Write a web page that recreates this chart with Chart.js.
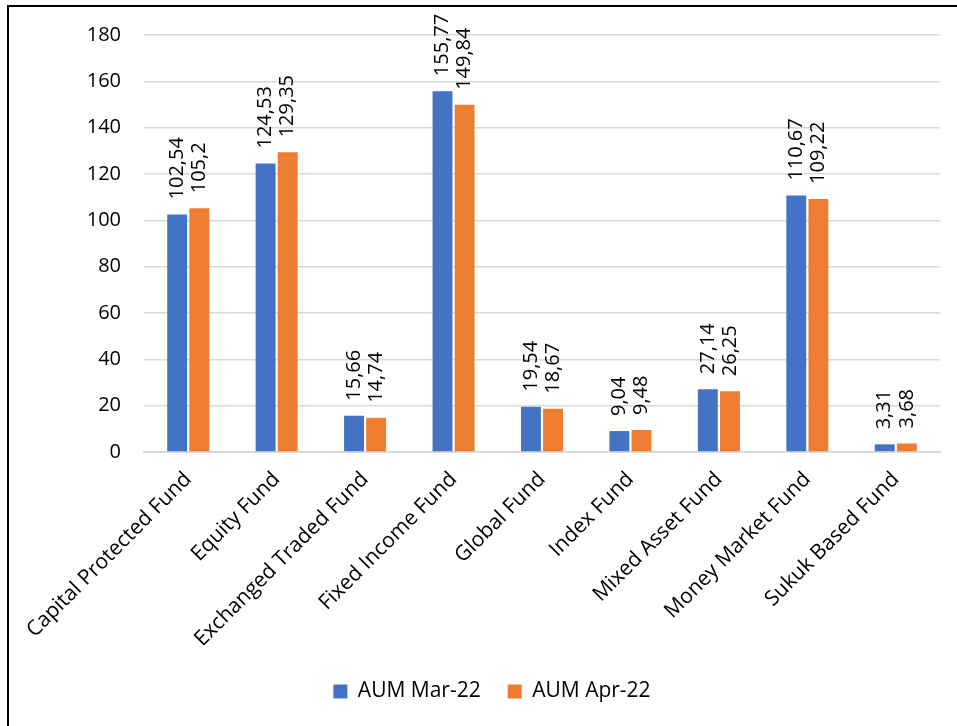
<!DOCTYPE html>
<html><head><meta charset="utf-8">
<script src="https://cdn.jsdelivr.net/npm/chart.js@4"></script>
<style>
html,body{margin:0;padding:0;background:#fff;}
#wrap{position:absolute;left:0;top:0;width:957px;height:726px;}
#frame{position:absolute;left:7px;top:5px;width:960px;height:730px;border-left:2px solid #000;border-top:2px solid #000;pointer-events:none;}
</style></head>
<body>
<div id="wrap"><canvas id="c" width="957" height="726"></canvas></div>
<div id="frame"></div>
<script>
const categories = ["Capital Protected Fund","Equity Fund","Exchanged Traded Fund","Fixed Income Fund","Global Fund","Index Fund","Mixed Asset Fund","Money Market Fund","Sukuk Based Fund"];
const aumMar22 = [102.54,124.53,15.66,155.77,19.54,9.04,27.14,110.67,3.31];
const aumApr22 = [105.2,129.35,14.74,149.84,18.67,9.48,26.25,109.22,3.68];
const seriesNames = ["AUM Mar-22","AUM Apr-22"];
const yTicks = [0,20,40,60,80,100,120,140,160,180];

const FONT = "'Open Sans', sans-serif";
const labelPlugin = {
  id: 'vlabels',
  afterDatasetsDraw(chart) {
    const ctx = chart.ctx;
    ctx.save();
    ctx.font = "20px " + FONT;
    ctx.fillStyle = "#000";
    ctx.textAlign = "left";
    ctx.textBaseline = "middle";
    chart.data.datasets.forEach((ds, di) => {
      const meta = chart.getDatasetMeta(di);
      meta.data.forEach((el, i) => {
        const txt = String(ds.data[i]).replace('.', ',');
        ctx.save();
        ctx.translate(el.x, el.y - 15);
        ctx.rotate(-Math.PI / 2);
        ctx.fillText(txt, 0, 0);
        ctx.restore();
      });
    });
    ctx.restore();
  }
};

new Chart(document.getElementById('c'), {
  type: 'bar',
  data: {
    labels: categories,
    datasets: [
      {label: seriesNames[0], data: aumMar22, backgroundColor: '#4472C4', categoryPercentage: 0.5, barPercentage: 0.9},
      {label: seriesNames[1], data: aumApr22, backgroundColor: '#ED7D31', categoryPercentage: 0.5, barPercentage: 0.9}
    ]
  },
  options: {
    responsive: false,
    animation: false,
    layout: {padding: {top: 26, right: 17, left: 44, bottom: 14}},
    plugins: {
      legend: {
        position: 'bottom',
        labels: {font: {family: FONT, size: 21}, color: '#000', boxWidth: 14, boxHeight: 14, padding: 27}
      },
      tooltip: {enabled: false}
    },
    scales: {
      x: {
        grid: {display: false, drawTicks: false},
        border: {display: true, color: '#d9d9d9', width: 2},
        ticks: {font: {family: FONT, size: 21}, color: '#000', maxRotation: 45, minRotation: 45, padding: 15, autoSkip: false},
        afterFit(s) { s.height = 202; }
      },
      y: {
        min: 0, max: 180,
        afterBuildTicks(s) { s.ticks = yTicks.map(v => ({value: v})); },
        grid: {color: '#d9d9d9', lineWidth: 1.5, drawTicks: false},
        border: {display: false},
        ticks: {font: {family: FONT, size: 20}, color: '#000', padding: 23},
        afterFit(s) { s.width = 100; }
      }
    }
  },
  plugins: [labelPlugin]
});
</script>
</body></html>
